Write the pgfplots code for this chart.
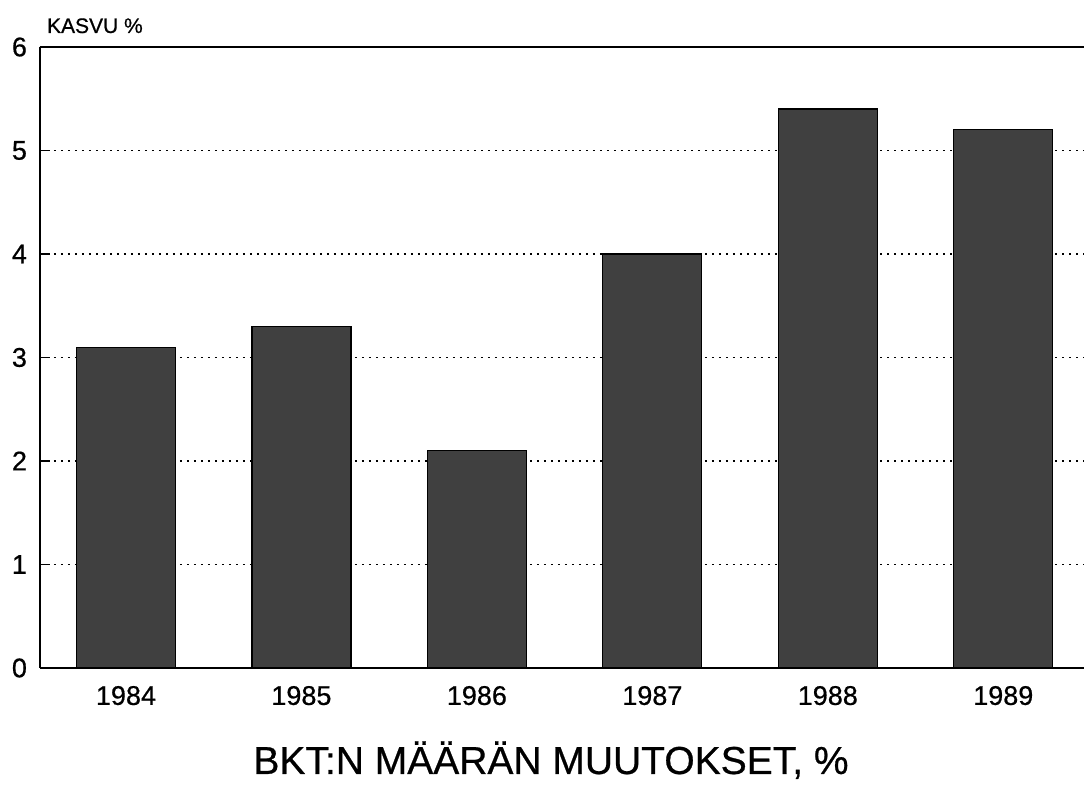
\documentclass[border=0pt]{standalone}
\usepackage{pgfplots}
\pgfplotsset{compat=1.18}
\usepackage{fontspec}
\setmainfont{Liberation Sans}[FakeBold=0.6]
\begin{document}
\begin{tikzpicture}
\begin{axis}[
  name=ax,
  scale only axis,
  width=522pt, height=310.5pt,
  xmin=-0.49, xmax=5.46,
  ymin=0, ymax=6,
  axis x line*=box, axis y line*=left,
  axis line style={black, line width=1pt},
  xtick={0,1,2,3,4,5},
  xticklabels={1984,1985,1986,1987,1988,1989},
  xtick style={draw=none},
  ytick={0,1,2,3,4,5,6},
  ytick style={black, line width=0.8pt},
  tick align=inside,
  major tick length=5pt,
  ytick pos=left,
  xtick pos=bottom,
  ymajorgrids,
  major grid style={black, dash pattern=on 0.9pt off 2.6pt, line width=0.7pt},
  tick label style={font=\fontsize{13.5}{16}\selectfont},
  yticklabel style={xshift=-3pt},
  xticklabel style={yshift=-5.5pt},
  /pgf/number format/assume math mode=true,
  clip=false,
]
\addplot[ybar, bar width=49.5pt, fill=black!75, draw=black, line width=0.6pt]
  coordinates {(0,3.1) (1,3.3) (2,2.1) (3,4.0) (4,5.4) (5,5.2)};
\end{axis}
\node[anchor=base west, font=\fontsize{10.5}{12}\selectfont] at ([yshift=7pt]ax.north west) {KASVU \%};
\node[anchor=base, font=\fontsize{19.5}{23}\selectfont] at ([xshift=255.5pt, yshift=-53pt]ax.south west) {BKT:N MÄÄRÄN MUUTOKSET, \%};
\pgfresetboundingbox
\path[use as bounding box] ([xshift=-20pt, yshift=-58.5pt]ax.south west) rectangle ([xshift=522pt, yshift=334pt]ax.south west);
\end{tikzpicture}
\end{document}
